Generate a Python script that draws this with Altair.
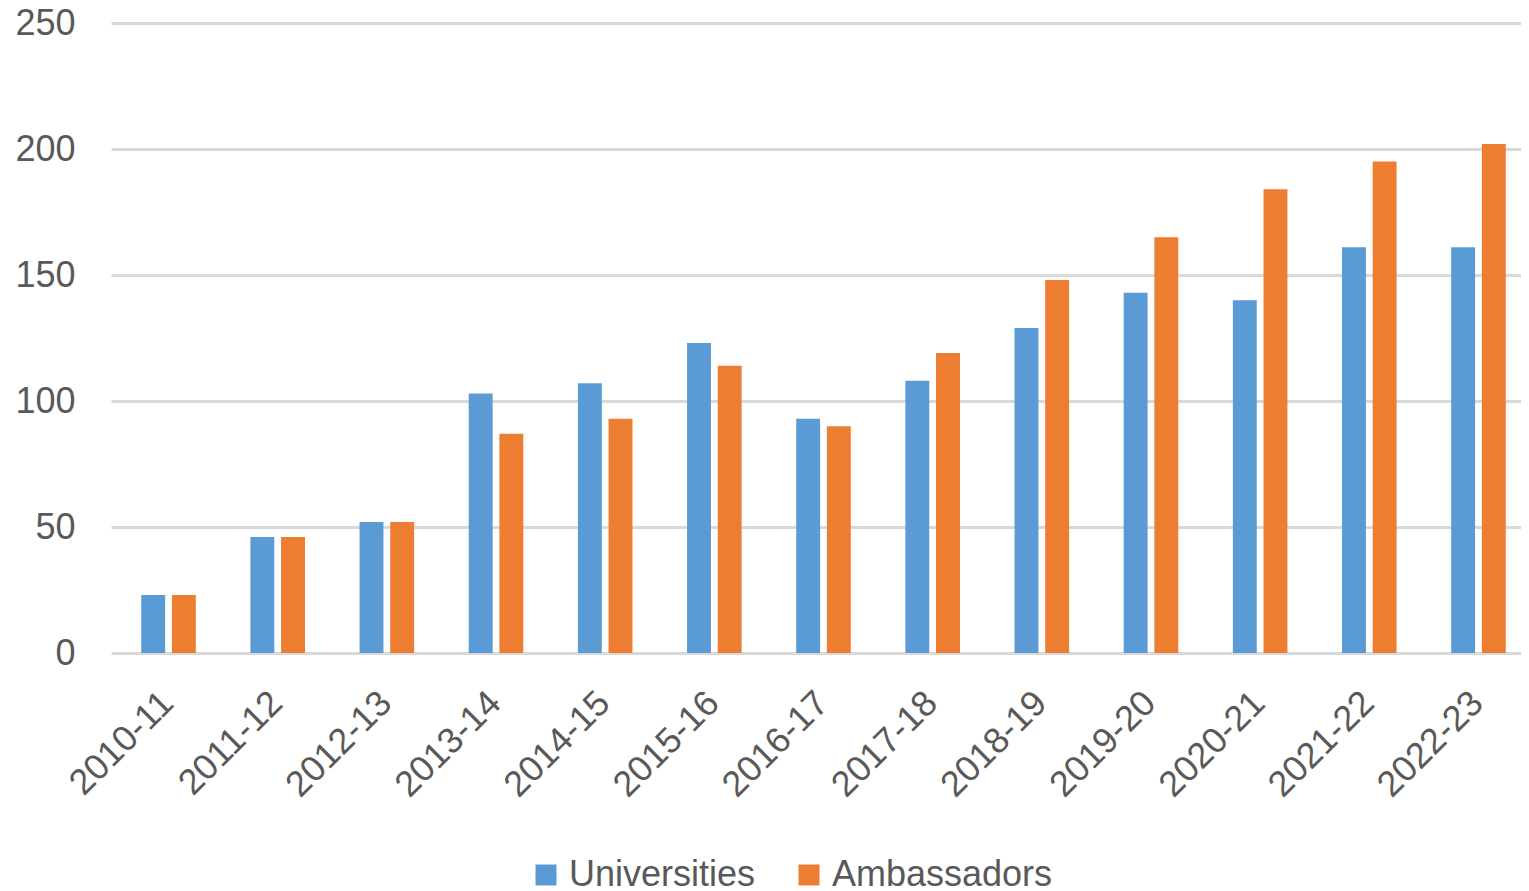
import altair as alt
import pandas as pd

years = ["2010-11", "2011-12", "2012-13", "2013-14", "2014-15", "2015-16", "2016-17",
         "2017-18", "2018-19", "2019-20", "2020-21", "2021-22", "2022-23"]
universities = [23, 46, 52, 103, 107, 123, 93, 108, 129, 143, 140, 161, 161]
ambassadors = [23, 46, 52, 87, 93, 114, 90, 119, 148, 165, 184, 195, 202]
series_names = ["Universities", "Ambassadors"]
series_colors = ["#5B9BD5", "#ED7D31"]
y_ticks = [0, 50, 100, 150, 200, 250]

rows = []
for i, y in enumerate(years):
    rows.append({"year": y, "series": series_names[0], "value": universities[i]})
    rows.append({"year": y, "series": series_names[1], "value": ambassadors[i]})
df = pd.DataFrame(rows)

FONT = "Liberation Sans"
TXT = "#595959"

chart = alt.Chart(df).mark_bar().encode(
    x=alt.X("year:N", sort=years, title=None,
            scale=alt.Scale(range=[0, 1425], paddingInner=0.5, paddingOuter=0.277),
            axis=alt.Axis(labelAngle=-45, labelFontSize=36, labelFont=FONT, labelColor=TXT,
                          domain=False, ticks=False, labelPadding=32, labelOffset=-13,
                          grid=False)),
    xOffset=alt.XOffset("series:N", sort=series_names, scale=alt.Scale(paddingInner=0.22)),
    y=alt.Y("value:Q", title=None, scale=alt.Scale(domain=[0, 250], nice=False),
            axis=alt.Axis(values=y_ticks, labelFontSize=36, labelFont=FONT, labelColor=TXT,
                          domain=False, ticks=False, labelPadding=36,
                          grid=True, gridColor="#d9d9d9", gridWidth=3)),
    color=alt.Color("series:N", sort=series_names,
                    scale=alt.Scale(domain=series_names, range=series_colors),
                    legend=alt.Legend(title=None, orient="none", direction="horizontal",
                                      legendX=417, legendY=834,
                                      symbolType="square", symbolSize=440,
                                      symbolStrokeWidth=0,
                                      labelFontSize=36, labelFont=FONT, labelColor=TXT,
                                      labelLimit=500,
                                      labelOffset=5, columnPadding=35)),
).properties(
    width=1410, height=630,
    autosize=alt.AutoSizeParams(type="none"),
    padding={"left": 103, "top": 15, "right": 0, "bottom": 237},
).configure_view(stroke=None)

chart.save("out.html", embed_options={"renderer": "svg", "actions": False})
